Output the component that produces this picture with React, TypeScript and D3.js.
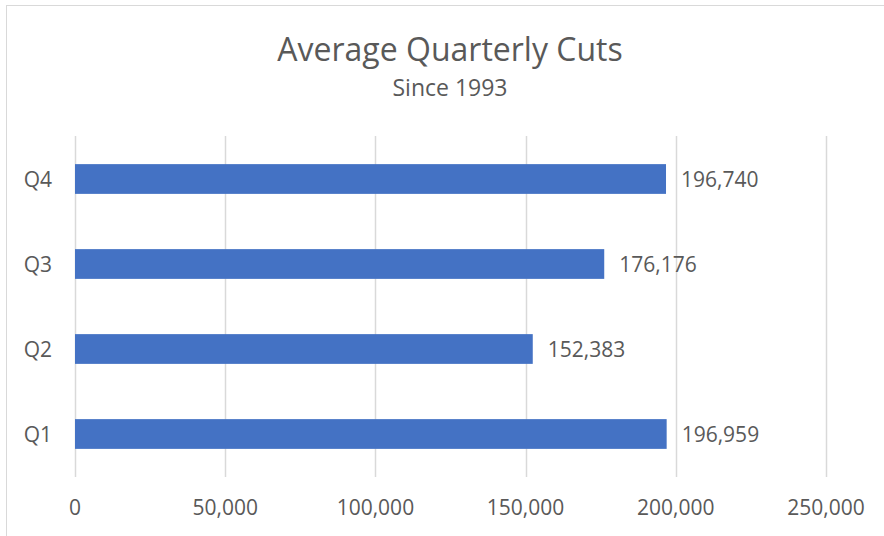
import React, { useEffect, useRef } from 'react';
import * as d3 from 'd3';

const quarters = ['Q4', 'Q3', 'Q2', 'Q1'];
const cuts = [196740, 176176, 152383, 196959];
const xTicks = [0, 50000, 100000, 150000, 200000, 250000];

const width = 884;
const height = 536;
const font = '"Open Sans", sans-serif';
const textColor = '#595959';

const App: React.FC = () => {
  const svgRef = useRef<SVGSVGElement>(null);

  useEffect(() => {
    if (!svgRef.current) return;
    const svg = d3.select(svgRef.current);
    svg.selectAll('*').remove();

    // chart area
    svg.append('rect')
      .attr('x', 0).attr('y', 0)
      .attr('width', width).attr('height', height)
      .attr('fill', '#fff');
    svg.append('rect')
      .attr('x', 6.5).attr('y', 5.5)
      .attr('width', 882).attr('height', 540)
      .attr('fill', 'none')
      .attr('stroke', '#d9d9d9')
      .attr('stroke-width', 1);

    const x = d3.scaleLinear().domain([0, 250000]).range([75, 826]);
    const y = d3.scaleBand<string>()
      .domain(quarters)
      .range([136.5, 476.5])
      .paddingInner(0.65)
      .paddingOuter(0.325);

    // gridlines
    svg.append('g')
      .selectAll('line')
      .data(xTicks)
      .enter()
      .append('line')
      .attr('x1', d => Math.round(x(d)) + 0.5)
      .attr('x2', d => Math.round(x(d)) + 0.5)
      .attr('y1', 136)
      .attr('y2', 477)
      .attr('stroke', '#d9d9d9')
      .attr('stroke-width', 1.5);

    // tick labels
    svg.append('g')
      .selectAll('text')
      .data(xTicks)
      .enter()
      .append('text')
      .attr('x', d => x(d))
      .attr('y', 515)
      .attr('text-anchor', 'middle')
      .style('font-family', font)
      .style('font-size', '21px')
      .style('fill', textColor)
      .text(d => d3.format(',')(d));

    const data = quarters.map((q, i) => ({ q, v: cuts[i] }));

    // bars
    svg.append('g')
      .selectAll('rect')
      .data(data)
      .enter()
      .append('rect')
      .attr('x', x(0))
      .attr('y', d => y(d.q)!)
      .attr('width', d => x(d.v) - x(0))
      .attr('height', y.bandwidth())
      .attr('fill', '#4472c4');

    // value labels
    svg.append('g')
      .selectAll('text')
      .data(data)
      .enter()
      .append('text')
      .attr('x', d => x(d.v) + 15)
      .attr('y', d => y(d.q)! + y.bandwidth() / 2)
      .attr('dy', '0.36em')
      .style('font-family', font)
      .style('font-size', '21px')
      .style('fill', textColor)
      .text(d => d3.format(',')(d.v));

    // category labels
    svg.append('g')
      .selectAll('text')
      .data(quarters)
      .enter()
      .append('text')
      .attr('x', 52)
      .attr('y', d => y(d)! + y.bandwidth() / 2)
      .attr('dy', '0.36em')
      .attr('text-anchor', 'end')
      .style('font-family', font)
      .style('font-size', '21px')
      .style('fill', textColor)
      .text(d => d);

    // titles
    svg.append('text')
      .attr('x', 450)
      .attr('y', 61)
      .attr('text-anchor', 'middle')
      .style('font-family', font)
      .style('font-size', '32px')
      .style('fill', textColor)
      .text('Average Quarterly Cuts');

    svg.append('text')
      .attr('x', 450)
      .attr('y', 96)
      .attr('text-anchor', 'middle')
      .style('font-family', font)
      .style('font-size', '23px')
      .style('fill', textColor)
      .text('Since 1993');
  }, []);

  return (
    <svg
      ref={svgRef}
      width={width}
      height={height}
      style={{ position: 'absolute', left: 0, top: 0, display: 'block' }}
    />
  );
};

export default App;
